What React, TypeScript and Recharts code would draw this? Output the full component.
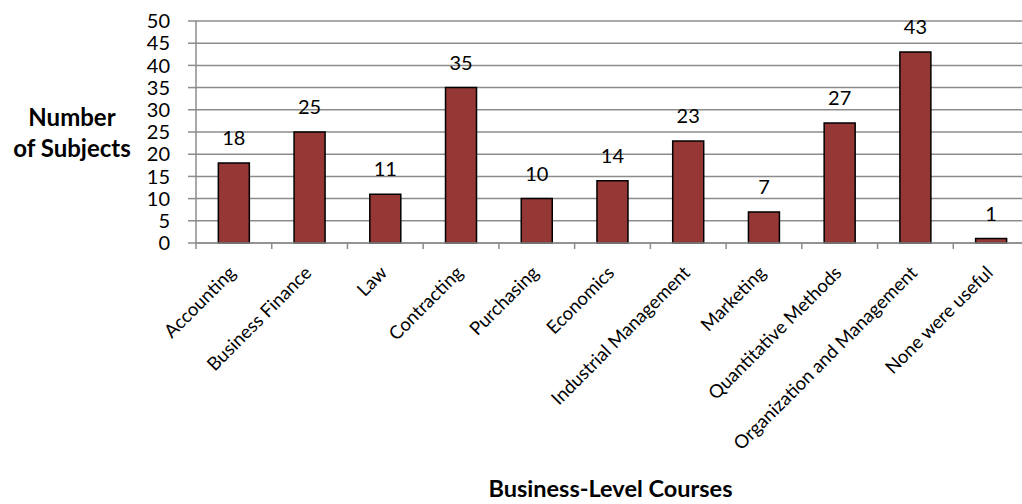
import { BarChart, Bar, XAxis, YAxis, CartesianGrid, LabelList, Label } from "recharts";

const courses = [
  "Accounting",
  "Business Finance",
  "Law",
  "Contracting",
  "Purchasing",
  "Economics",
  "Industrial Management",
  "Marketing",
  "Quantitative Methods",
  "Organization and Management",
  "None were useful",
];
const subjects = [18, 25, 11, 35, 10, 14, 23, 7, 27, 43, 1];
const yTicks = [0, 5, 10, 15, 20, 25, 30, 35, 40, 45, 50];

const data = courses.map((course, i) => ({ course, subjects: subjects[i] }));

const FONT = "Lato, 'Open Sans', sans-serif";
const GRID = "#8c8c8c";
const CHART_W = 1040;
const CHART_H = 504;
const Y_AXIS_W = 196;
const MARGIN = { top: 21, right: 11, left: 0, bottom: 61 };
const BAND = (CHART_W - Y_AXIS_W - MARGIN.left - MARGIN.right) / courses.length;
const TICK_SIZE = 6;
const TICK_MARGIN = 4;

function CourseTick(props: any) {
  const { x, y, payload } = props;
  const axisY = y - TICK_SIZE - TICK_MARGIN;
  const tx = x + 3;
  const ty = axisY + 31;
  return (
    <g>
      <line
        x1={x - BAND / 2}
        x2={x - BAND / 2}
        y1={axisY}
        y2={axisY + TICK_SIZE}
        stroke={GRID}
        strokeWidth={1.5}
      />
      <text
        x={tx}
        y={ty}
        transform={`rotate(-45, ${tx}, ${ty})`}
        textAnchor="end"
        fontSize={18.5}
        fontFamily={FONT}
        fill="#000"
      >
        {payload.value}
      </text>
    </g>
  );
}

function YTitle() {
  return (
    <text textAnchor="middle" fontSize={24} fontWeight={700} fontFamily={FONT} fill="#000">
      <tspan x={72} y={126}>Number</tspan>
      <tspan x={72} y={157}>of Subjects</tspan>
    </text>
  );
}

function XTitle(props: any) {
  const { viewBox } = props;
  const cx = viewBox.x + viewBox.width / 2;
  return (
    <text x={cx - 2} y={497} textAnchor="middle" fontSize={23.5} fontWeight={700} fontFamily={FONT} fill="#000">
      Business-Level Courses
    </text>
  );
}

export default function App() {
  return (
    <div
      style={{
        position: "fixed",
        left: 0,
        top: 0,
        width: 1022,
        height: 504,
        overflow: "hidden",
        background: "#fff",
      }}
    >
      <BarChart
        width={CHART_W}
        height={CHART_H}
        data={data}
        margin={MARGIN}
        barCategoryGap="29.5%"
      >
        <CartesianGrid vertical={false} stroke={GRID} strokeWidth={1.5} />
        <XAxis
          dataKey="course"
          interval={0}
          height={200}
          axisLine={{ stroke: GRID, strokeWidth: 1.5 }}
          tickLine={false}
          tickSize={TICK_SIZE}
          tickMargin={TICK_MARGIN}
          tick={<CourseTick />}
        >
          <Label content={<XTitle />} />
        </XAxis>
        <YAxis
          width={Y_AXIS_W}
          domain={[0, 50]}
          ticks={yTicks}
          interval={0}
          axisLine={{ stroke: GRID, strokeWidth: 1.5 }}
          tickLine={{ stroke: GRID, strokeWidth: 1.5 }}
          tickSize={8}
          tickMargin={18}
          tick={{ fontSize: 20, fontFamily: FONT, fill: "#000" }}
        >
          <Label content={<YTitle />} />
        </YAxis>
        <Bar
          dataKey="subjects"
          fill="#953735"
          stroke="#000"
          strokeWidth={1.5}
          isAnimationActive={false}
        >
          <LabelList
            dataKey="subjects"
            position="top"
            offset={18}
            fontSize={20}
            fontFamily={FONT}
            fill="#000"
          />
        </Bar>
      </BarChart>
    </div>
  );
}
